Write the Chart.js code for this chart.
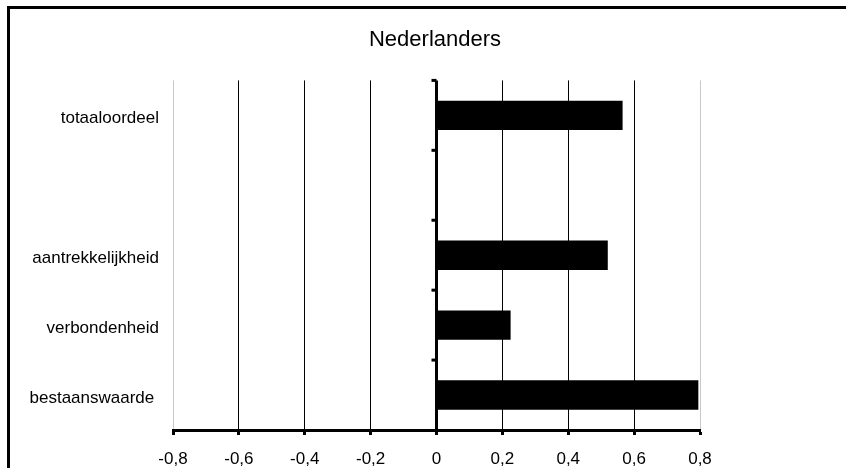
<!DOCTYPE html>
<html>
<head>
<meta charset="utf-8">
<script src="https://cdn.jsdelivr.net/npm/chart.js@4"></script>
<style>
  html, body { margin: 0; padding: 0; background: #fff; overflow: hidden; }
  #frame { position: absolute; left: 7px; top: 6px; width: 900px; height: 600px; border: 3px solid #000; }
  #chart { position: absolute; left: 0; top: 0; }
</style>
</head>
<body>
<div id="frame"></div>
<canvas id="chart" width="846" height="468"></canvas>
<script>
// categorieen van boven naar beneden, lege regel tussen totaal en de rest
const categories = ['totaaloordeel', '', 'aantrekkelijkheid', 'verbondenheid', 'bestaanswaarde '];
const scores = [0.565, null, 0.52, 0.225, 0.795];
const xTicks = [-0.8, -0.6, -0.4, -0.2, 0, 0.2, 0.4, 0.6, 0.8];

const fontFamily = '"Liberation Sans", Arial, Helvetica, sans-serif';

const fmt = (v) => {
  const r = Math.round(v * 10) / 10;
  return r === 0 ? '0' : r.toFixed(1).replace('.', ',');
};

// kleine streepjes op de nul-as tussen de categorieen
const zeroAxisTicks = {
  id: 'zeroAxisTicks',
  afterDatasetsDraw(chart) {
    const { ctx, scales: { x, y } } = chart;
    const x0 = x.getPixelForValue(0);
    ctx.save();
    ctx.strokeStyle = '#000';
    ctx.lineWidth = 3;
    for (let i = 0; i < categories.length; i++) {
      const yy = y.getPixelForValue(i - 0.5);
      ctx.beginPath();
      ctx.moveTo(x0 - 5, yy);
      ctx.lineTo(x0, yy);
      ctx.stroke();
    }
    ctx.restore();
  }
};

new Chart(document.getElementById('chart'), {
  type: 'bar',
  data: {
    labels: categories,
    datasets: [{
      data: scores,
      backgroundColor: '#000',
      borderWidth: 0,
      barPercentage: 0.42,
      categoryPercentage: 1,
    }],
  },
  options: {
    indexAxis: 'y',
    responsive: false,
    animation: false,
    layout: { padding: { left: 24, right: 0, top: 0, bottom: 0 } },
    plugins: {
      legend: { display: false },
      tooltip: { enabled: false },
      title: {
        display: true,
        text: 'Nederlanders',
        color: '#000',
        font: { family: fontFamily, size: 22, weight: 'normal' },
        padding: { top: 27, bottom: 27 },
      },
    },
    scales: {
      x: {
        min: -0.8,
        max: 0.8,
        afterBuildTicks: (s) => { s.ticks = xTicks.map(v => ({ value: v })); },
        afterFit: (s) => { s.height = 38; },
        border: { display: true, color: '#000', width: 3 },
        grid: {
          color: (c) => (c.tick && Math.abs(Math.abs(c.tick.value) - 0.8) < 1e-6) ? '#c8c8c8' : '#000',
          lineWidth: (c) => (c.tick && Math.abs(c.tick.value) < 1e-6) ? 3 : 1,
          drawTicks: true,
          tickLength: 5,
          tickColor: '#000',
          tickWidth: 3,
        },
        ticks: {
          color: '#000',
          padding: 14,
          maxRotation: 0,
          autoSkip: false,
          font: { family: fontFamily, size: 17 },
          callback: (v) => fmt(v),
        },
      },
      y: {
        afterFit: (s) => { s.width = 149; },
        border: { display: false },
        grid: { display: false, drawTicks: false },
        ticks: {
          color: '#000',
          padding: 14,
          labelOffset: 3,
          autoSkip: false,
          font: { family: fontFamily, size: 17 },
        },
      },
      // lege as rechts, alleen voor de witruimte naast het plotvlak
      yRight: {
        position: 'right',
        afterFit: (s) => { s.width = 146; },
        border: { display: false },
        grid: { display: false, drawTicks: false },
        ticks: { display: false },
      },
    },
  },
  plugins: [zeroAxisTicks],
});
</script>
</body>
</html>
